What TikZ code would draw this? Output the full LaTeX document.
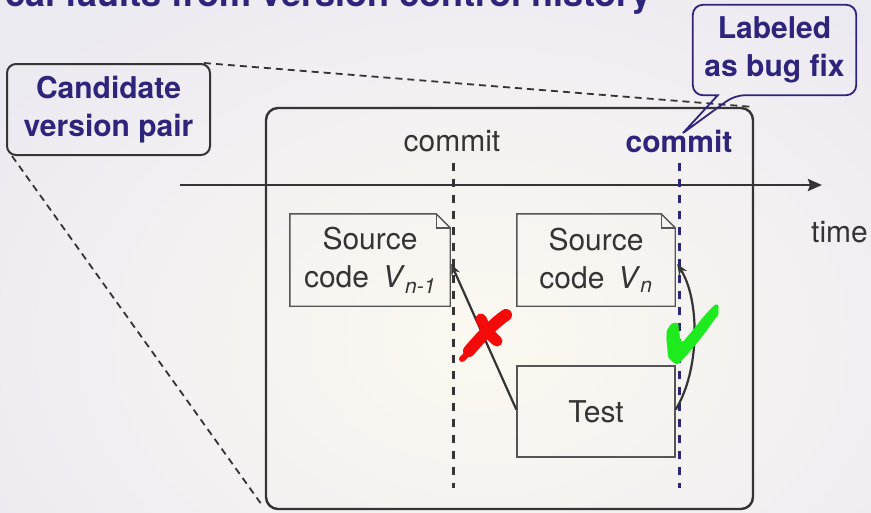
\documentclass[tikz,border=0pt]{standalone}
\usepackage{fontspec}
\setmainfont{TeX Gyre Heros}
\usepackage{pifont}
\usetikzlibrary{calc,arrows.meta}
\definecolor{purp}{RGB}{46,36,124}
\definecolor{dark}{RGB}{52,52,52}
\definecolor{docgray}{RGB}{85,85,85}
\definecolor{bgout}{RGB}{236,234,241}
\definecolor{bgin}{RGB}{251,249,240}
\definecolor{xred}{RGB}{245,10,10}
\definecolor{vgreen}{RGB}{30,235,30}
\tikzset{
  txt/.style={font=\fontsize{30}{38}\selectfont, text=dark, align=center},
  btxt/.style={font=\bfseries\fontsize{30}{38}\selectfont, text=purp, align=center},
  docbox/.style={minimum width=160pt, minimum height=92pt, inner sep=0pt},
  docline/.style={draw=docgray, line width=1.4pt},
  arr/.style={draw=dark, line width=2.2pt, -{Stealth[length=11pt,width=9pt]}},
  vdash/.style={line width=3pt, dash pattern=on 8pt off 8pt},
  diag/.style={draw=dark, line width=1.8pt, dash pattern=on 7pt off 5pt},
  brush/.style={draw=xred, line cap=round},
}
\begin{document}
\begin{tikzpicture}[x=1pt,y=-1pt]
\useasboundingbox (0,0) rectangle (871,512);
\clip (0,0) rectangle (871,512);
\shade[inner color=bgin, outer color=bgout] (-100,-80) rectangle (1060,760);

% title (cut off at the top edge, as in the reference)
\node[anchor=base east, font=\bfseries\fontsize{36}{40}\selectfont, text=purp, inner sep=0pt] (title) at (652,6) {cal faults from version control history};

% big box
\node[draw=dark, line width=2.4pt, rounded corners=12pt, minimum width=487pt, minimum height=401pt, inner sep=0pt] (big) at (509.5,308.5) {};

% candidate callout
\node[btxt, draw=dark, line width=2pt, rounded corners=9pt, minimum width=203pt, minimum height=91pt, inner sep=0pt] (cand) at (108.5,109.5) {Candidate\\version pair};

% dashed zoom lines
\draw[diag] ($(cand.north east)+(-7,0)$) -- ($(big.north east)+(-3,0)$);
\draw[diag] ($(cand.south west)+(6,0)$) -- ($(big.south west)+(-2,-4)$);

% time axis
\coordinate (tstart) at (180,185);
\coordinate (tend) at (822,185);
\draw[draw=dark, line width=2.4pt, -{Stealth[length=14pt,width=12pt,inset=2pt]}] (tstart) -- (tend);
\node[txt, anchor=base west, inner sep=0pt] (time) at (811,242) {time};

% commits
\node[txt, anchor=base, inner sep=0pt] (c1) at (452,151) {commit};
\node[btxt, anchor=base, inner sep=0pt] (c2) at (679,152) {commit};
\coordinate (d1t) at (453,163);
\coordinate (d1b) at (453,488);
\coordinate (d2t) at (679,163);
\coordinate (d2b) at (679,488);
\draw[vdash, draw=dark] (d1t) -- (d1b);
\draw[vdash, draw=purp] (d2t) -- (d2b);

% labeled callout
\node[btxt, minimum width=163pt, minimum height=90pt, inner sep=0pt] (lab) at (774.5,50) {Labeled\\as bug fix};
\coordinate (ptr) at (683,133);
\draw[draw=purp, line width=1.8pt, rounded corners=10pt] ($(lab.south west)+(25,0)$) -- (lab.south west) -- (lab.north west) -- (lab.north east) -- (lab.south east) -- ($(lab.south west)+(42,0)$) [sharp corners] -- (ptr) -- cycle;

% documents
\node[docbox, txt] (s1) at (370,260) {Source\\code\hspace{0.45em}\textit{V}\textsubscript{\textit{n-1}}};
\node[docbox, txt, minimum width=158pt] (s2) at (596,260) {Source\\code\hspace{0.45em}\textit{V}\textsubscript{\textit{n}}};
\foreach \d in {s1,s2}{
  \draw[docline] (\d.south west) -- (\d.north west) -- ($(\d.north east)+(-14,0)$) -- ($(\d.north east)+(0,14)$) -- (\d.south east) -- cycle;
  \draw[docline] ($(\d.north east)+(-14,0)$) -- ($(\d.north east)+(-14,14)$) -- ($(\d.north east)+(0,14)$);
}
\node[txt, docline, minimum width=158pt, minimum height=91pt, inner sep=0pt] (test) at (596,411.5) {Test};

% arrows
\draw[arr] ($(test.west)+(0,-2)$) -- ($(s1.east)+(1,4)$);
\draw[arr] ($(test.east)+(0,-2)$) .. controls (700,370) and (700,300) .. ($(s2.east)+(2,4)$);

% red cross (brush strokes)
\draw[brush, line width=6pt] (462,359) -- (469,352);
\draw[brush, line width=12pt] (469,351) .. controls (480,338) and (494,323) .. (506,315);
\draw[brush, line width=11pt] (481,319) .. controls (486,330) and (492,337) .. (497,341);

% green check
\node[text=vgreen, font=\fontsize{60}{60}\selectfont, inner sep=0pt] (ck) at (693,335) {\scalebox{1.12}[1.38]{\ding{52}}};
\end{tikzpicture}
\end{document}
